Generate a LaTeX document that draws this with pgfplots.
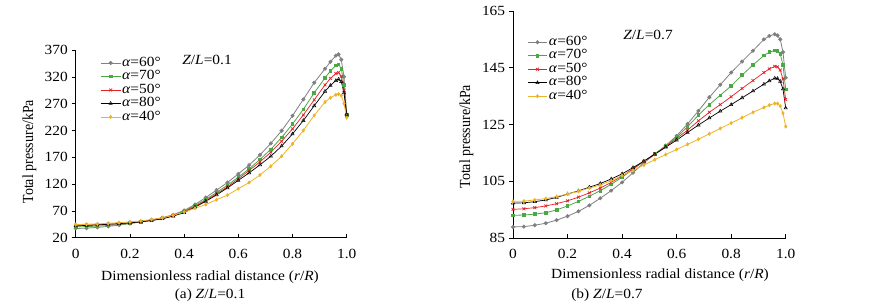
\documentclass[border=0pt]{standalone}
\usepackage{fontspec}
\setmainfont{Liberation Serif}
\usepackage{pgfplots}
\pgfplotsset{compat=1.18}
\definecolor{cgray}{RGB}{128,128,128}
\definecolor{cgreen}{RGB}{76,168,68}
\definecolor{cred}{RGB}{228,32,36}
\definecolor{cyel}{RGB}{236,180,40}
\newcommand{\fs}{\fontsize{14}{16}\selectfont}
\pgfplotsset{
  common/.style={
    scale only axis, clip=false,
    axis lines=left, axis line style={-, line width=0.6pt},
    xmin=0, xmax=1,
    xtick={0,0.2,0.4,0.6,0.8,1.0},
    xticklabels={0,0.2,0.4,0.6,0.8,1.0},
    tick style={black, line width=0.6pt},
    major tick length=4pt,
    xtick align=inside, ytick align=outside,
    /pgf/number format/assume math mode=true,
    tick label style={font=\fs, xscale=1.1},
    xticklabel style={yshift=-8pt},
    legend style={draw=none, fill=none, font=\fs, inner sep=0pt, row sep=0pt,
      nodes={inner sep=1pt, text height=9pt, text depth=2.5pt, xscale=1.1},
      legend cell align=left},
    legend image code/.code={\draw[#1] (0cm,0cm) -- (0.7cm,0cm); \draw[#1, only marks] plot coordinates {(0.35cm,0cm)};},
  },
  sgray/.style={cgray, line width=0.8pt, mark=*, mark size=1.6pt},
  sgreen/.style={cgreen, line width=0.8pt, mark=square*, mark size=1.3pt},
  sred/.style={cred, line width=0.7pt, mark=x, mark size=2pt},
  sblack/.style={black, line width=0.7pt, mark=triangle, mark size=1.9pt, mark options={fill=white, line width=0.5pt}},
  syel/.style={cyel, line width=0.8pt, mark=diamond*, mark size=1.5pt},
}
\begin{document}
\begin{tikzpicture}[x=1pt,y=1pt,font=\fs]
\useasboundingbox (0,0) rectangle (870,307);
% ---------------- (a) Z/L = 0.1 ----------------
\begin{axis}[common, at={(75.7pt,69.2pt)}, anchor=south west,
  width=271pt, height=187.8pt,
  ymin=20, ymax=370, ytick={20,70,120,170,220,270,320,370},
  legend style={at={(0.09,0.968)}, anchor=north west}]
\addplot[sgray] coordinates {(0,37.3)(0.04,38.0)(0.08,39.4)(0.12,41.2)(0.16,43.6)(0.20,46.6)(0.24,50.0)(0.28,53.5)(0.32,57.5)(0.36,63.0)(0.40,71.0)(0.44,82.0)(0.48,95.0)(0.52,109.0)(0.56,123.0)(0.60,139.0)(0.64,155.5)(0.68,174.5)(0.72,196.0)(0.76,219.5)(0.80,247.5)(0.84,278.0)(0.88,309.0)(0.92,335.0)(0.94,348.0)(0.96,359.5)(0.97,362.0)(0.98,352.0)(0.99,320.0)(1.0,250.0)};
\addplot[sgreen] coordinates {(0,40.4)(0.04,40.8)(0.08,41.7)(0.12,43.0)(0.16,44.6)(0.20,46.6)(0.24,49.5)(0.28,52.5)(0.32,56.0)(0.36,61.5)(0.40,69.5)(0.44,80.0)(0.48,91.5)(0.52,104.5)(0.56,118.0)(0.60,133.0)(0.64,148.5)(0.68,166.0)(0.72,185.0)(0.76,207.0)(0.80,232.0)(0.84,259.5)(0.88,290.0)(0.92,318.0)(0.94,331.0)(0.96,341.5)(0.97,343.5)(0.98,335.0)(0.99,305.0)(1.0,249.0)};
\addplot[sred] coordinates {(0,43.5)(0.04,43.8)(0.08,44.5)(0.12,45.3)(0.16,46.4)(0.20,47.8)(0.24,49.8)(0.28,52.5)(0.32,55.8)(0.36,61.0)(0.40,68.0)(0.44,78.5)(0.48,89.5)(0.52,102.0)(0.56,115.0)(0.60,130.0)(0.64,145.5)(0.68,161.5)(0.72,179.5)(0.76,200.0)(0.80,223.0)(0.84,249.0)(0.88,277.0)(0.92,305.0)(0.94,317.0)(0.96,326.0)(0.97,328.0)(0.98,321.0)(0.99,295.0)(1.0,248.0)};
\addplot[sblack] coordinates {(0,42.3)(0.04,43.0)(0.08,44.0)(0.12,45.2)(0.16,46.4)(0.20,47.8)(0.24,49.8)(0.28,52.3)(0.32,55.5)(0.36,60.5)(0.40,67.0)(0.44,77.0)(0.48,88.0)(0.52,100.0)(0.56,113.0)(0.60,127.0)(0.64,141.0)(0.68,156.0)(0.72,172.0)(0.76,191.0)(0.80,213.5)(0.84,238.5)(0.88,266.0)(0.92,293.0)(0.94,304.0)(0.96,313.0)(0.97,315.5)(0.98,311.0)(0.99,290.0)(1.0,250.0)};
\addplot[syel] coordinates {(0,44.7)(0.04,45.2)(0.08,46.0)(0.12,47.0)(0.16,48.2)(0.20,49.7)(0.24,51.5)(0.28,54.0)(0.32,57.0)(0.36,62.0)(0.40,68.0)(0.44,75.0)(0.48,82.0)(0.52,91.0)(0.56,99.5)(0.60,111.5)(0.64,123.0)(0.68,137.0)(0.72,153.5)(0.76,172.0)(0.80,195.0)(0.84,220.0)(0.88,248.0)(0.92,273.0)(0.94,281.0)(0.96,286.5)(0.97,287.8)(0.98,285.0)(0.99,270.0)(1.0,244.0)};
\legend{\textit{α}=60°,\textit{α}=70°,\textit{α}=50°,\textit{α}=80°,\textit{α}=40°}
\end{axis}
\node[xscale=1.1] at (207,247) {\textit{Z}/\textit{L}=0.1};
\node[xscale=1.1] at (210,30.3) {Dimensionless radial distance (\textit{r}/\textit{R})};
\node[xscale=1.1] at (210,12) {(a) \textit{Z}/\textit{L}=0.1};
\node[rotate=90, yscale=1.1] at (29.3,155.3) {Total pressure/kPa};
% ---------------- (b) Z/L = 0.7 ----------------
\begin{axis}[common, at={(513pt,69pt)}, anchor=south west,
  width=272.7pt, height=227pt,
  ymin=85, ymax=165, ytick={85,105,125,145,165},
  legend style={at={(0.051,0.893)}, anchor=north west}]
\addplot[sgray] coordinates {(0,88.9)(0.04,89.0)(0.08,89.5)(0.12,90.2)(0.16,91.3)(0.20,92.7)(0.24,94.4)(0.28,96.5)(0.32,99.0)(0.36,101.7)(0.40,104.6)(0.44,108.0)(0.48,111.5)(0.52,114.5)(0.56,117.6)(0.60,121.0)(0.64,125.2)(0.68,129.8)(0.72,134.6)(0.76,139.0)(0.80,143.3)(0.84,147.2)(0.88,151.0)(0.92,155.0)(0.94,156.2)(0.96,156.8)(0.97,156.4)(0.98,155.0)(0.99,150.5)(1.0,141.5)};
\addplot[sgreen] coordinates {(0,93.0)(0.04,93.1)(0.08,93.4)(0.12,93.9)(0.16,94.9)(0.20,96.3)(0.24,97.9)(0.28,99.7)(0.32,101.7)(0.36,103.9)(0.40,106.4)(0.44,109.2)(0.48,112.0)(0.52,114.7)(0.56,117.4)(0.60,120.5)(0.64,124.2)(0.68,128.3)(0.72,132.0)(0.76,135.3)(0.80,138.6)(0.84,142.4)(0.88,146.0)(0.92,149.3)(0.94,150.5)(0.96,151.1)(0.97,150.9)(0.98,149.8)(0.99,146.0)(1.0,137.4)};
\addplot[sred] coordinates {(0,95.1)(0.04,95.3)(0.08,95.7)(0.12,96.3)(0.16,97.1)(0.20,98.1)(0.24,99.4)(0.28,100.9)(0.32,102.6)(0.36,104.6)(0.40,106.8)(0.44,109.4)(0.48,112.0)(0.52,114.6)(0.56,117.2)(0.60,120.1)(0.64,123.0)(0.68,126.3)(0.72,129.3)(0.76,132.0)(0.80,134.8)(0.84,137.7)(0.88,140.5)(0.92,143.3)(0.94,144.6)(0.96,145.5)(0.97,145.3)(0.98,144.2)(0.99,141.0)(1.0,133.8)};
\addplot[sblack] coordinates {(0,97.3)(0.04,97.4)(0.08,97.8)(0.12,98.4)(0.16,99.3)(0.20,100.5)(0.24,101.6)(0.28,102.9)(0.32,104.2)(0.36,105.8)(0.40,107.6)(0.44,109.8)(0.48,112.1)(0.52,114.5)(0.56,117.0)(0.60,119.5)(0.64,122.2)(0.68,124.8)(0.72,127.3)(0.76,129.7)(0.80,132.0)(0.84,134.4)(0.88,136.8)(0.92,139.2)(0.94,140.4)(0.96,141.3)(0.97,141.2)(0.98,140.2)(0.99,137.5)(1.0,130.8)};
\addplot[syel] coordinates {(0,97.9)(0.04,98.0)(0.08,98.4)(0.12,98.9)(0.16,99.6)(0.20,100.5)(0.24,101.5)(0.28,102.6)(0.32,103.7)(0.36,105.2)(0.40,107.0)(0.44,108.8)(0.48,110.7)(0.52,112.6)(0.56,114.4)(0.60,116.2)(0.64,118.0)(0.68,119.8)(0.72,121.7)(0.76,123.6)(0.80,125.5)(0.84,127.4)(0.88,129.3)(0.92,131.0)(0.94,131.8)(0.96,132.4)(0.97,132.4)(0.98,131.5)(0.99,129.0)(1.0,124.3)};
\legend{\textit{α}=60°,\textit{α}=70°,\textit{α}=50°,\textit{α}=80°,\textit{α}=40°}
\end{axis}
\node[xscale=1.1] at (648,272) {\textit{Z}/\textit{L}=0.7};
\node[xscale=1.1] at (660,32) {Dimensionless radial distance (\textit{r}/\textit{R})};
\node[xscale=1.1] at (607,12) {(b) \textit{Z}/\textit{L}=0.7};
\node[rotate=90, yscale=1.1] at (466.5,170.3) {Total pressure/kPa};
\end{tikzpicture}
\end{document}
